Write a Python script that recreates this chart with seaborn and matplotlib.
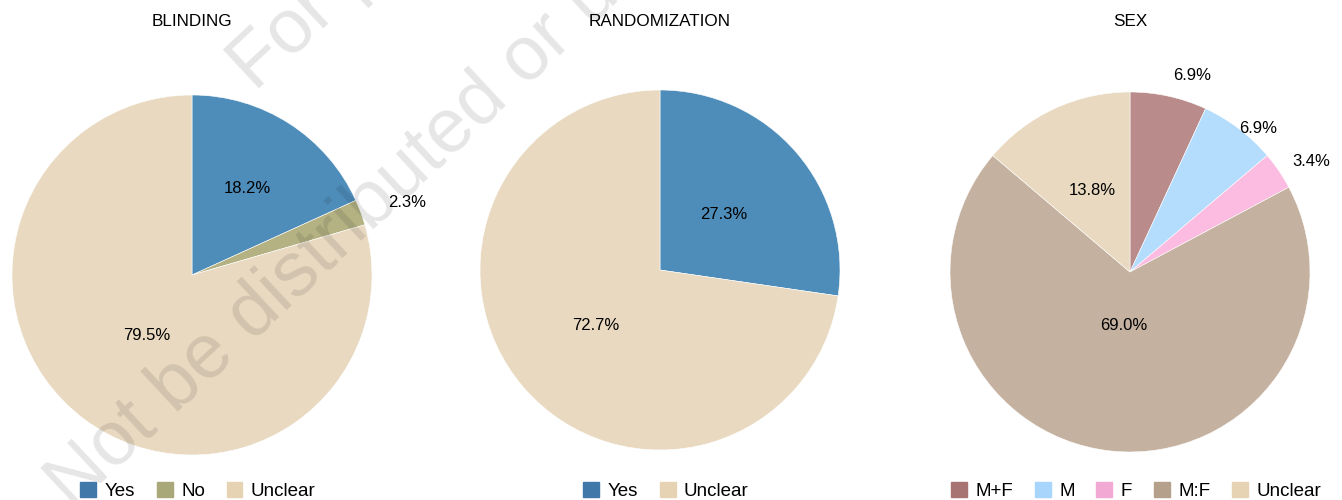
import numpy as np
import matplotlib
matplotlib.use("Agg")
import matplotlib.pyplot as plt
import matplotlib.patches as mpatches
import seaborn as sns

# ---- data ----
blinding_labels = ["Yes", "No", "Unclear"]
blinding_values = [18.2, 2.3, 79.5]
random_labels = ["Yes", "Unclear"]
random_values = [27.3, 72.7]
sex_labels = ["M+F", "M", "F", "M:F", "Unclear"]
sex_values = [6.9, 6.9, 3.4, 69.0, 13.8]
titles = ["BLINDING", "RANDOMIZATION", "SEX"]

# ---- style ----
sns.set_theme(style="white")
plt.rcParams["font.family"] = ["Liberation Sans", "DejaVu Sans"]

pie_colors = {
    "Yes": "#4E8DBA", "No": "#B4B283", "Unclear": "#E8D9C0",
    "M+F": "#B98B8A", "M": "#B4DDFD", "F": "#FCBBE0", "M:F": "#C4B1A0",
}
legend_colors = {
    "Yes": "#3F78A9", "No": "#A8A878", "Unclear": "#E6D3B3",
    "M+F": "#A87473", "M": "#A8D5FC", "F": "#F2A9D3", "M:F": "#B5A08B",
}
# label radial distance for each slice (style only)
label_dist = [[0.57, 1.16, 0.42], [0.47, 0.47], [1.12, 1.0, 1.09, 0.3, 0.5]]

W, H = 1342, 500
fig = plt.figure(figsize=(W / 100, H / 100), dpi=100)

centers = [(192, 275), (660, 270), (1130, 272)]
R = 180
datasets = [(blinding_labels, blinding_values),
            (random_labels, random_values),
            (sex_labels, sex_values)]

for (cx, cy), (labs, vals), title, dists in zip(centers, datasets, titles, label_dist):
    ax = fig.add_axes([(cx - R) / W, (H - cy - R) / H, 2 * R / W, 2 * R / H])
    wedges, _ = ax.pie(vals, colors=[pie_colors[l] for l in labs],
                       startangle=90, counterclock=False, radius=1,
                       wedgeprops=dict(linewidth=0.4, edgecolor="white"))
    total = sum(vals)
    for w, v, dist in zip(wedges, vals, dists):
        ang = np.deg2rad((w.theta1 + w.theta2) / 2)
        outside = v / total < 0.1
        ax.text(dist * np.cos(ang), dist * np.sin(ang), f"{v:.1f}%",
                ha="left" if outside else "center", va="center",
                fontsize=12, color="black")
    ax.set_xlim(-1, 1)
    ax.set_ylim(-1, 1)
    ax.set_aspect("equal")
    ax.axis("off")
    fig.text(cx / W, 1 - 22 / H, title, ha="center", va="center",
             fontsize=12.3, color="black")
    handles = [mpatches.Patch(color=legend_colors[l], label=l) for l in labs]
    leg = fig.legend(handles=handles, loc="center",
                     bbox_to_anchor=(cx / W + 6 / W, 1 - 491 / H),
                     ncol=len(labs), frameon=False, fontsize=13.5,
                     handlelength=0.85, handleheight=0.85, handletextpad=0.45,
                     columnspacing=1.15, borderpad=0, borderaxespad=0)
    for t in leg.get_texts():
        t.set_color("black")

# ---- watermark ----
wm = dict(rotation=43, rotation_mode="anchor", ha="left", va="baseline",
          fontsize=55, color="black", alpha=0.1,
          family=["Liberation Sans", "DejaVu Sans"])
fig.text(72 / W, 1 - 510 / H, "Not be distributed or used", **wm)
fig.text(255 / W, 1 - 92 / H, "For personal use only", **wm)

fig.savefig("out.png", dpi=100)
